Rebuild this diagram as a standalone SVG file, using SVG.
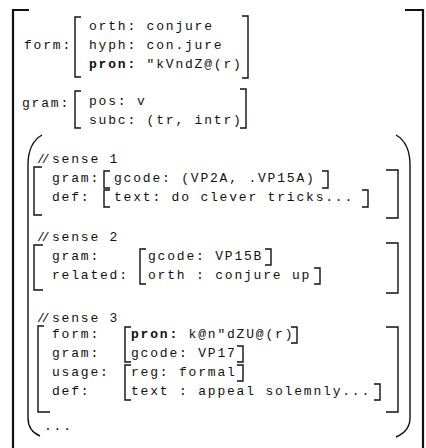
<svg xmlns="http://www.w3.org/2000/svg" width="426" height="448" viewBox="0 0 426 448">
<style>
text{font-family:"Liberation Mono","DejaVu Sans Mono",monospace;font-size:13px;letter-spacing:1.8px;fill:#111}
.b{font-weight:bold}
.sl{letter-spacing:-3px}
.br{fill:none;stroke:#111;stroke-width:1.4}
.ob{fill:none;stroke:#111;stroke-width:2.2}
</style>
<rect width="426" height="448" fill="#fff"/>
<g id="outer">
<path class="ob" d="M29,10 H13 V448"/>
<path class="ob" d="M405,10 H423 V448"/>
</g>
<g id="form">
<text x="24" y="49">form:</text>
<path class="br" d="M81,17 H75 V77 H81"/>
<text x="89" y="30">orth: conjure</text>
<text x="89" y="49">hyph: con.jure</text>
<text x="89" y="68"><tspan class="b">pron:</tspan> "kVndZ@(r)</text>
<path class="br" d="M242,16 H248 V78 H242"/>
</g>
<g id="gram">
<text x="22" y="107">gram:</text>
<path class="br" d="M81,91 H75 V128 H81"/>
<text x="89" y="105">pos: v</text>
<text x="89" y="124">subc: (tr, intr)</text>
<path class="br" d="M240,89 H246 V128 H240"/>
</g>
<g id="senses">
<path class="br" d="M42,135 Q28,143 28,165 V418 Q28,431 40,436"/>
<path class="br" d="M396,135 Q410,143 410,165 V418 Q410,431 396,437"/>
</g>
<g id="sense1">
<text class="sl" x="37" y="163">//</text>
<text x="52" y="163">sense 1</text>
<path class="br" d="M42,167 H34 V215 H42"/>
<text x="52" y="182">gram:</text>
<path class="br" d="M110,171 H104 V188 H110"/>
<text x="114" y="182">gcode: (VP2A, .VP15A)</text>
<path class="br" d="M322,171 H328 V188 H322"/>
<text x="52" y="201">def:</text>
<path class="br" d="M110,190 H104 V207 H110"/>
<text x="114" y="201">text: do clever tricks...</text>
<path class="br" d="M362,190 H368 V207 H362"/>
<path class="br" d="M386,170 H398 V218 H386"/>
</g>
<g id="sense2">
<text class="sl" x="37" y="241">//</text>
<text x="52" y="241">sense 2</text>
<path class="br" d="M43,245 H34 V290 H43"/>
<text x="52" y="260">gram:</text>
<text x="52" y="279">related:</text>
<path class="br" d="M146,249 H140 V284 H146"/>
<text x="148" y="260">gcode: VP15B</text>
<path class="br" d="M265,249 H271 V265 H265"/>
<text x="148" y="279">orth : conjure up</text>
<path class="br" d="M314,268 H320 V284 H314"/>
<path class="br" d="M386,243 H398 V293 H386"/>
</g>
<g id="sense3">
<text class="sl" x="37" y="322">//</text>
<text x="52" y="322">sense 3</text>
<path class="br" d="M44,326 H38 V412 H50"/>
<text x="52" y="338">form:</text>
<text x="52" y="357">gram:</text>
<text x="52" y="376">usage:</text>
<text x="52" y="395">def:</text>
<path class="br" d="M131,327 H125 V362 H131"/>
<path class="br" d="M131,365 H125 V400 H131"/>
<text x="131" y="338"><tspan class="b">pron:</tspan> k@n"dZU@(r)</text>
<path class="br" d="M291,327 H297 V343 H291"/>
<text x="131" y="357">gcode: VP17</text>
<path class="br" d="M237,346 H243 V362 H237"/>
<text x="131" y="376">reg: formal</text>
<path class="br" d="M237,365 H243 V381 H237"/>
<text x="131" y="395">text : appeal solemnly...</text>
<path class="br" d="M374,384 H380 V400 H374"/>
<path class="br" d="M386,327 H398 V412 H386"/>
<text x="44" y="430">...</text>
</g>
</svg>
